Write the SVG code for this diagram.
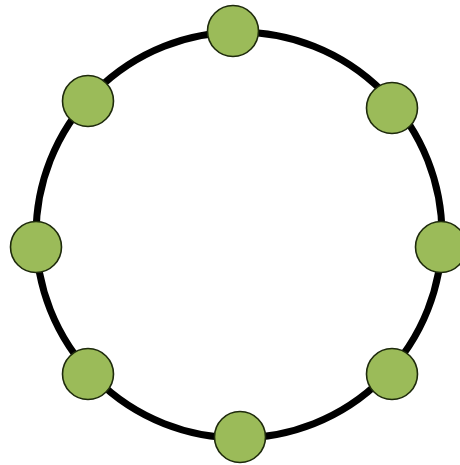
<svg xmlns="http://www.w3.org/2000/svg" width="460" height="465" viewBox="0 0 460 465">
<style>
.ring{fill:none;stroke:#000;stroke-width:7}
.node{fill:#9bbb59;stroke:#1e2a0c;stroke-width:1.6}
</style>
<rect width="460" height="465" fill="#fff"/>
<g id="connectors">
<ellipse class="ring" cx="239" cy="235" rx="203" ry="203"/>
</g>
<g id="n1"><circle class="node" cx="233" cy="31" r="25.5"/></g>
<g id="n2"><circle class="node" cx="392" cy="108" r="25.5"/></g>
<g id="n3"><circle class="node" cx="441" cy="247" r="25.5"/></g>
<g id="n4"><circle class="node" cx="392" cy="374" r="25.5"/></g>
<g id="n5"><circle class="node" cx="240" cy="437" r="25.5"/></g>
<g id="n6"><circle class="node" cx="88" cy="374" r="25.5"/></g>
<g id="n7"><circle class="node" cx="36" cy="247" r="25.5"/></g>
<g id="n8"><circle class="node" cx="88" cy="101" r="25.5"/></g>
</svg>
